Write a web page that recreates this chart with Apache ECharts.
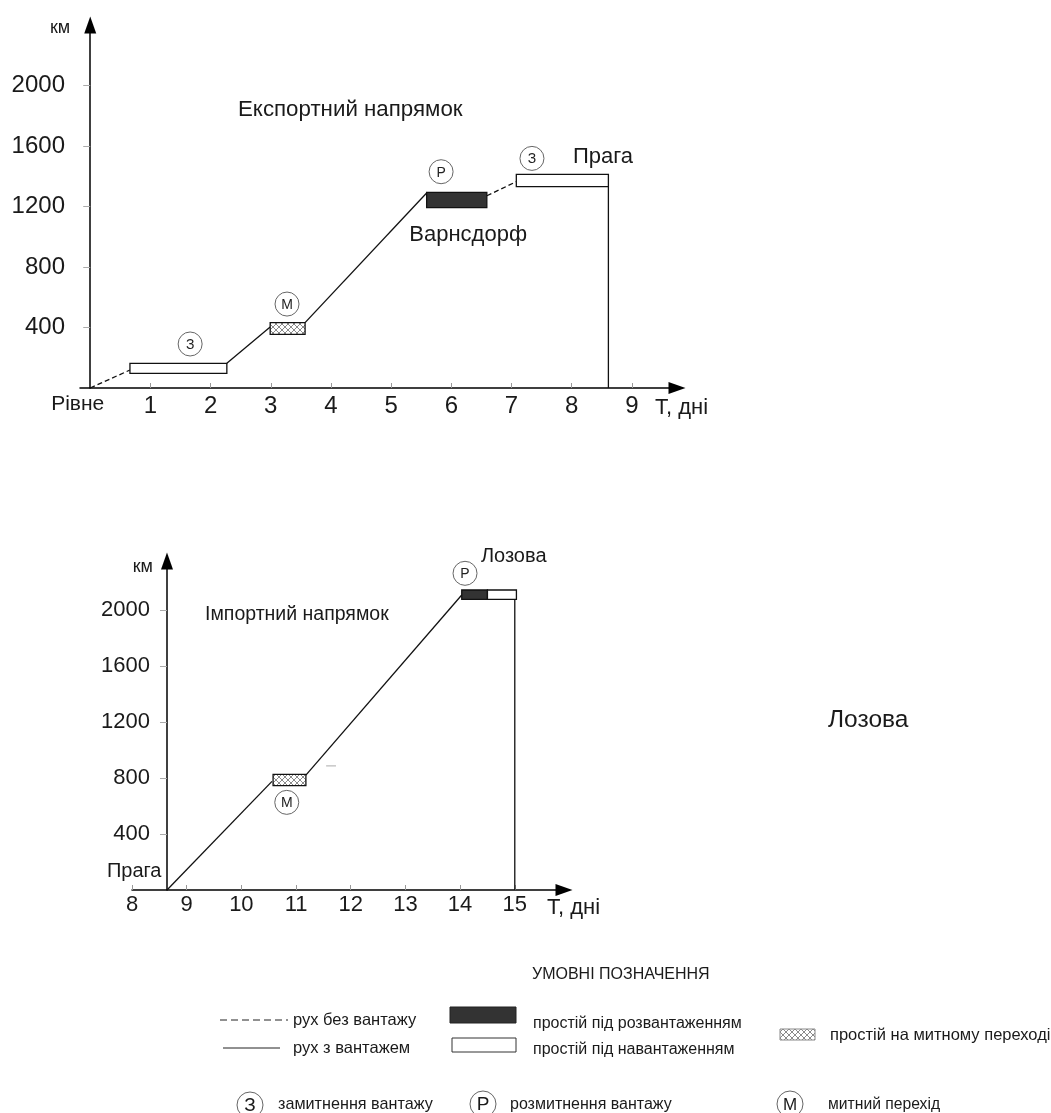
<!DOCTYPE html>
<html><head><meta charset="utf-8">
<script src="https://cdn.jsdelivr.net/npm/echarts@6/dist/echarts.min.js"></script>
<style>html,body{margin:0;padding:0;background:#fff}#c{width:1051px;height:1113px}</style>
</head><body><div id="c"></div>
<script>
// ---------- DATA ----------
const KM_TICKS = [400, 800, 1200, 1600, 2000];
const EXPORT_DAY_TICKS = [0, 1, 2, 3, 4, 5, 6, 7, 8, 9];
const IMPORT_DAY_TICKS = [8, 9, 10, 11, 12, 13, 14, 15];
const ORIGIN_NAME = 'Рівне';

// rectangles: [dayStart, dayEnd, kmLow, kmHigh]
const EXPORT_IDLE_LOADING = [[0.66, 2.27, 97, 163], [7.08, 8.61, 1331, 1413]];
const EXPORT_IDLE_UNLOADING = [[5.59, 6.59, 1192, 1294]];
const EXPORT_IDLE_CUSTOMS = [[2.99, 3.57, 355, 432]];
// runs: list of [day, km] segments
const EXPORT_EMPTY_RUNS = [[[0, 0], [0.66, 119]], [[6.59, 1271], [7.08, 1364]]];
const EXPORT_LOADED_RUNS = [[[2.27, 163], [2.99, 403]], [[3.57, 432], [5.59, 1289]]];
const EXPORT_ARRIVAL = [[8.61, 1331], [8.61, 0]];
const EXPORT_MARKS = [[1.66, 291, 'З'], [3.27, 555, 'М'], [5.83, 1430, 'Р'], [7.34, 1518, 'З']];
const EXPORT_PLACES = [[8.52, 1527, 'Прага'], [6.28, 1011, 'Варнсдорф']];

const IMPORT_START_DAY = 8.64;
const IMPORT_IDLE_CUSTOMS = [[10.58, 11.18, 745, 826]];
const IMPORT_IDLE_UNLOADING = [[14.03, 14.5, 2076, 2143]];
const IMPORT_IDLE_LOADING = [[14.5, 15.03, 2076, 2143]];
const IMPORT_LOADED_RUNS = [[[8.64, 0], [10.56, 776]], [[11.18, 821], [14.03, 2107]]];
const IMPORT_ARRIVAL = [[15.0, 2076], [15.0, 0]];
const IMPORT_MARKS = [[10.83, 626, 'М'], [14.09, 2262, 'Р']];
const IMPORT_PLACES = [[8.04, 129, 'Прага'], [14.98, 2379, 'Лозова']];
const IMPORT_STRAY = [[11.55, 886], [11.73, 886]];

// ---------- STYLE ----------
const FONT = 'Liberation Sans, Arial, sans-serif';
const INK = '#1a1a1a';
const G0 = {left: 80, top: 25, width: 597, height: 363, xMin: -0.17, xMax: 9.75, yMax: 2400};
const G1 = {left: 132, top: 561, width: 432, height: 329, xMin: 8, xMax: 15.9, yMax: 2350};

function hatch() {
  const c = document.createElement('canvas'); c.width = 6; c.height = 6;
  const g = c.getContext('2d');
  g.fillStyle = '#fff'; g.fillRect(0, 0, 6, 6);
  g.strokeStyle = '#8a8a8a'; g.lineWidth = 1;
  g.beginPath(); g.moveTo(0, 0); g.lineTo(6, 6); g.moveTo(6, 0); g.lineTo(0, 6); g.stroke();
  return {image: c, repeat: 'repeat'};
}
const HATCH = hatch();
const FILLS = {loading: '#ffffff', unloading: '#333333', customs: HATCH};

function rectSeries(data, kind, ax) {
  return {
    type: 'custom', xAxisIndex: ax, yAxisIndex: ax, data: data, clip: false, z: 4,
    encode: {x: [0, 1], y: [2, 3]},
    renderItem: function (params, api) {
      const p0 = api.coord([api.value(0), api.value(3)]);
      const p1 = api.coord([api.value(1), api.value(2)]);
      return {type: 'rect', shape: {x: p0[0], y: p0[1], width: p1[0] - p0[0], height: p1[1] - p0[1]},
        style: {fill: FILLS[kind], stroke: '#111', lineWidth: 1.3}};
    }
  };
}
function lineSeries(seg, dashed, ax, color) {
  return {type: 'line', xAxisIndex: ax, yAxisIndex: ax, data: seg, symbol: 'none', z: 3,
    clip: false, silent: true,
    lineStyle: {color: color || '#111', width: 1.3, type: dashed ? [5, 3] : 'solid'}};
}
function markSeries(data, ax) {
  return {type: 'custom', xAxisIndex: ax, yAxisIndex: ax, data: data, z: 5, clip: false,
    encode: {x: 0, y: 1},
    renderItem: function (params, api) {
      const p = api.coord([api.value(0), api.value(1)]);
      const letter = data[params.dataIndex][2];
      return {type: 'group', children: [
        {type: 'circle', shape: {cx: p[0], cy: p[1], r: 12}, style: {fill: '#fff', stroke: '#666', lineWidth: 1}},
        {type: 'text', x: p[0], y: p[1] + 1, style: {text: letter, fontSize: 14, fontFamily: FONT, fill: '#222',
          align: 'center', verticalAlign: 'middle'}}
      ]};
    }};
}
function placeSeries(data, ax, size) {
  return {type: 'custom', xAxisIndex: ax, yAxisIndex: ax, data: data, z: 5, clip: false,
    encode: {x: 0, y: 1},
    renderItem: function (params, api) {
      const p = api.coord([api.value(0), api.value(1)]);
      return {type: 'text', x: p[0], y: p[1], style: {text: data[params.dataIndex][2], fontSize: size,
        fontFamily: FONT, fill: INK, align: 'center', verticalAlign: 'middle'}};
    }};
}

function xAxisCfg(gi, G, ticks, labelSize, margin, nameGap, namePad) {
  return {
    type: 'value', gridIndex: gi, min: G.xMin, max: G.xMax, splitLine: {show: false},
    axisLine: {onZero: true, symbol: ['none', 'triangle'], symbolSize: [12, 17], lineStyle: {color: '#000', width: 1.5}},
    axisTick: {show: true, inside: true, length: 5, customValues: ticks.filter(v => v !== 0), lineStyle: {color: '#999'}},
    axisLabel: {customValues: ticks, fontSize: labelSize, margin: margin, color: INK, fontFamily: FONT,
      formatter: v => v === 0 ? '{o|' + ORIGIN_NAME + '}' : String(v),
      rich: {o: {fontSize: 21, padding: [0, 25, 0, 0], color: INK, fontFamily: FONT}}},
    name: 'Т, дні', nameLocation: 'end', nameGap: nameGap,
    nameTextStyle: {align: 'left', verticalAlign: 'top', padding: [namePad, 0, 0, 0], fontSize: 22, color: INK, fontFamily: FONT}
  };
}
function yAxisCfg(gi, G, labelSize, margin, offset, onZero, nameGap, namePad) {
  return {
    type: 'value', gridIndex: gi, min: 0, max: G.yMax, offset: offset, splitLine: {show: false},
    axisLine: {onZero: onZero, symbol: ['none', 'triangle'], symbolSize: [12, 17], lineStyle: {color: '#000', width: 1.5}},
    axisTick: {show: true, length: 7, customValues: KM_TICKS, lineStyle: {color: '#aaa'}},
    axisLabel: {customValues: KM_TICKS, fontSize: labelSize, margin: margin, color: INK, fontFamily: FONT,
      formatter: v => String(v)},
    name: 'км', nameLocation: 'end', nameGap: nameGap,
    nameTextStyle: {align: 'right', verticalAlign: 'middle', padding: [0, namePad, 0, 0], fontSize: 18, color: INK, fontFamily: FONT}
  };
}

const importYOffset = -(IMPORT_START_DAY - G1.xMin) * G1.width / (G1.xMax - G1.xMin);

const series = [];
series.push(...EXPORT_EMPTY_RUNS.map(s => lineSeries(s, true, 0)));
series.push(...EXPORT_LOADED_RUNS.map(s => lineSeries(s, false, 0)));
series.push(lineSeries(EXPORT_ARRIVAL, false, 0));
series.push(rectSeries(EXPORT_IDLE_LOADING, 'loading', 0));
series.push(rectSeries(EXPORT_IDLE_UNLOADING, 'unloading', 0));
series.push(rectSeries(EXPORT_IDLE_CUSTOMS, 'customs', 0));
series.push(markSeries(EXPORT_MARKS, 0));
series.push(placeSeries(EXPORT_PLACES, 0, 22));

series.push(...IMPORT_LOADED_RUNS.map(s => lineSeries(s, false, 1)));
series.push(lineSeries(IMPORT_ARRIVAL, false, 1));
series.push(lineSeries(IMPORT_STRAY, false, 1, '#bbb'));
series.push(rectSeries(IMPORT_IDLE_CUSTOMS, 'customs', 1));
series.push(rectSeries(IMPORT_IDLE_UNLOADING, 'unloading', 1));
series.push(rectSeries(IMPORT_IDLE_LOADING, 'loading', 1));
series.push(markSeries(IMPORT_MARKS, 1));
series.push(placeSeries(IMPORT_PLACES, 1, 20));

function txt(x, y, text, size, align) {
  return {type: 'text', x: x, y: y, z: 10, style: {text: text, fontSize: size, fontFamily: FONT, fill: INK,
    align: align || 'left', verticalAlign: 'middle'}};
}
function circ(cx, cy, r, letter, size) {
  return [{type: 'circle', shape: {cx: cx, cy: cy, r: r}, style: {fill: '#fff', stroke: '#666', lineWidth: 1}},
    {type: 'text', x: cx, y: cy + 1, style: {text: letter, fontSize: size, fontFamily: FONT, fill: INK, align: 'center', verticalAlign: 'middle'}}];
}
const graphic = [
  txt(238, 110, 'Експортний напрямок', 22.3),
  txt(205, 615, 'Імпортний напрямок', 19.5),
  txt(828, 720, 'Лозова', 24.5),
  txt(532, 975, 'УМОВНІ ПОЗНАЧЕННЯ', 16),
  {type: 'line', shape: {x1: 220, y1: 1020, x2: 288, y2: 1020}, style: {stroke: '#222', lineWidth: 1, lineDash: [7, 4]}},
  txt(293, 1020, 'рух без вантажу', 16.5),
  {type: 'line', shape: {x1: 223, y1: 1048, x2: 280, y2: 1048}, style: {stroke: '#222', lineWidth: 1}},
  txt(293, 1048, 'рух з вантажем', 16.5),
  {type: 'rect', shape: {x: 450, y: 1007, width: 66, height: 16}, style: {fill: '#333', stroke: '#222', lineWidth: 1}},
  {type: 'rect', shape: {x: 452, y: 1038, width: 64, height: 14}, style: {fill: '#fff', stroke: '#333', lineWidth: 1}},
  txt(533, 1024, 'простій під розвантаженням', 16),
  txt(533, 1050, 'простій під навантаженням', 16),
  {type: 'rect', shape: {x: 780, y: 1029, width: 35, height: 11}, style: {fill: HATCH, stroke: '#888', lineWidth: 1}},
  txt(830, 1035, 'простій на митному переході', 16.5),
  ...circ(250, 1105, 13, 'З', 19),
  txt(278, 1105, 'замитнення вантажу', 16.2),
  ...circ(483, 1104, 13, 'Р', 19),
  txt(510, 1105, 'розмитнення вантажу', 16),
  ...circ(790, 1104, 13, 'М', 17),
  txt(828, 1105, 'митний перехід', 15.7)
];

const chart = echarts.init(document.getElementById('c'), null, {renderer: 'canvas'});
chart.setOption({
  backgroundColor: '#fff',
  animation: false,
  grid: [
    {left: G0.left, top: G0.top, width: G0.width, height: G0.height, containLabel: false},
    {left: G1.left, top: G1.top, width: G1.width, height: G1.height, containLabel: false}
  ],
  xAxis: [
    xAxisCfg(0, G0, EXPORT_DAY_TICKS, 24, 6, -22, 9),
    xAxisCfg(1, G1, IMPORT_DAY_TICKS, 22, 4, -17, 7)
  ],
  yAxis: [
    yAxisCfg(0, G0, 24, 15, 0, true, -3, 20),
    yAxisCfg(1, G1, 22, 17, importYOffset, false, -6, 14)
  ],
  series: series,
  graphic: graphic
});
</script></body></html>
